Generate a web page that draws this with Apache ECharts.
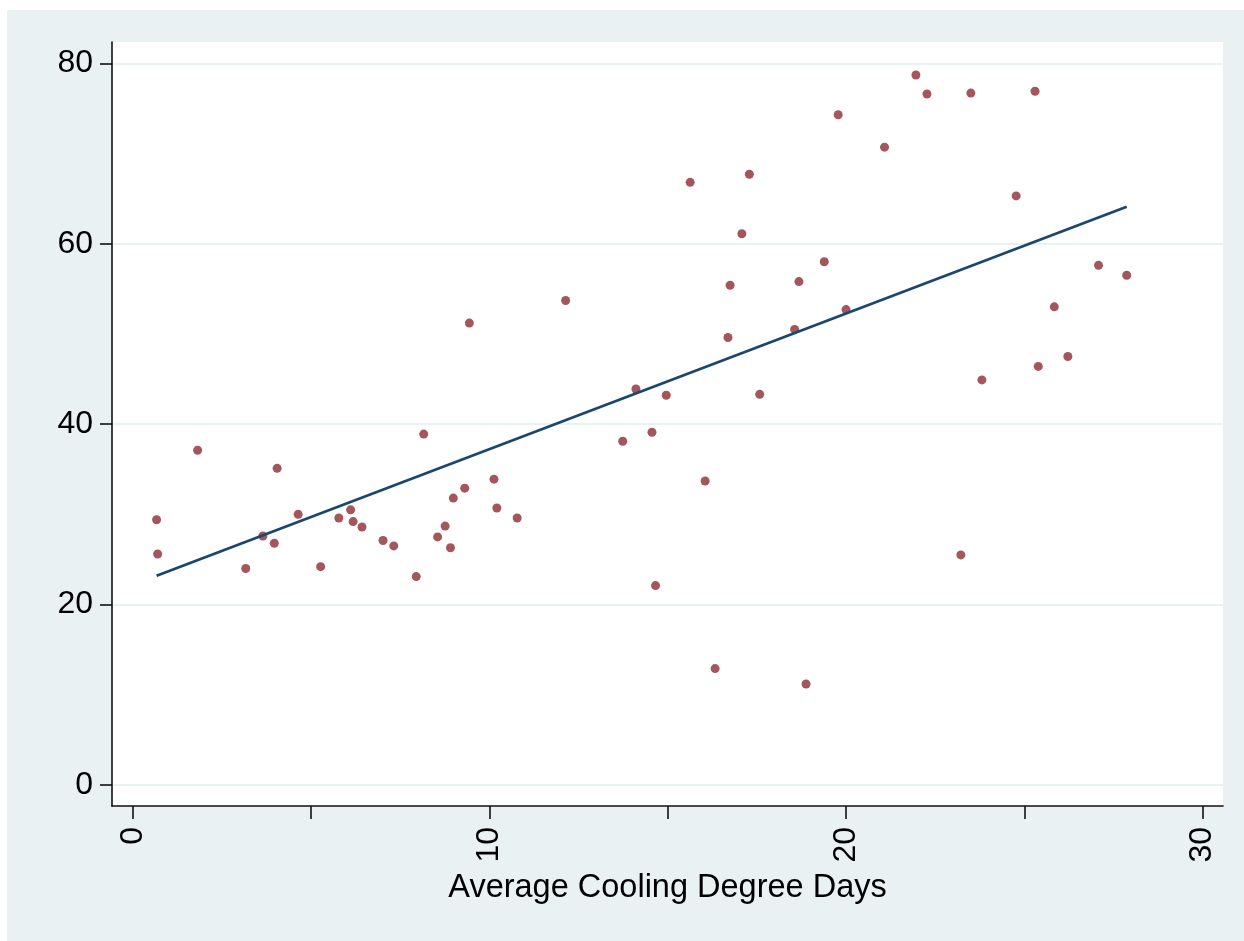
<!DOCTYPE html>
<html>
<head>
<meta charset="utf-8">
<script src="https://cdn.jsdelivr.net/npm/echarts@6/dist/echarts.min.js"></script>
<style>
  html, body { margin: 0; padding: 0; background: #ffffff; }
  #wrap { position: relative; width: 1244px; height: 941px; background: #ffffff; overflow: hidden; }
  #bg { position: absolute; left: 7px; top: 10px; width: 1237px; height: 931px; background: #EAF1F3; }
  #chart { position: absolute; left: 0; top: 0; width: 1244px; height: 941px; }
</style>
</head>
<body>
<div id="wrap"><div id="bg"></div><div id="chart"></div></div>
<script>
// ---- data ----
const coolingDegreeDays = [
  0.67, 0.70, 1.82, 3.17, 3.65, 3.97, 4.05, 4.64, 5.27, 5.78,
  6.11, 6.18, 6.43, 7.02, 7.32, 7.95, 8.16, 8.55, 8.76, 8.91,
  8.99, 9.31, 9.44, 10.13, 10.21, 10.78, 12.14, 13.74, 14.11, 14.56,
  14.66, 14.96, 15.63, 16.05, 16.33, 16.69, 16.75, 17.08, 17.29, 17.58,
  18.56, 18.68, 18.88, 19.39, 19.78, 20.00, 21.08, 21.96, 22.27, 23.22,
  23.50, 23.81, 24.77, 25.30, 25.39, 25.84, 26.22, 27.08, 27.87
];
const outcomeValues = [
  29.4, 25.6, 37.1, 24.0, 27.6, 26.8, 35.1, 30.0, 24.2, 29.6,
  30.5, 29.2, 28.6, 27.1, 26.5, 23.1, 38.9, 27.5, 28.7, 26.3,
  31.8, 32.9, 51.2, 33.9, 30.7, 29.6, 53.7, 38.1, 43.9, 39.1,
  22.1, 43.2, 66.8, 33.7, 12.9, 49.6, 55.4, 61.1, 67.7, 43.3,
  50.5, 55.8, 11.2, 58.0, 74.3, 52.7, 70.7, 78.7, 76.6, 25.5,
  76.7, 44.9, 65.3, 76.9, 46.4, 53.0, 47.5, 57.6, 56.5
];
const fitLineX = [0.67, 27.87];
const fitLineY = [23.2, 64.1];
const xTickValues = [0, 5, 10, 15, 20, 25, 30];
const xLabelValues = [0, 10, 20, 30];
const yTickValues = [0, 20, 40, 60, 80];
const xTitle = 'Average Cooling Degree Days';

const scatterData = coolingDegreeDays.map((x, i) => [x, outcomeValues[i]]);
const lineData = fitLineX.map((x, i) => [x, fitLineY[i]]);

const FONT = '"Liberation Sans", Arial, Helvetica, sans-serif';
const AXIS_COLOR = '#111111';
const GRID_COLOR = '#EAF1F3';

const chart = echarts.init(document.getElementById('chart'), null, { renderer: 'canvas' });
chart.setOption({
  animation: false,
  backgroundColor: 'transparent',
  textStyle: { fontFamily: FONT },
  grid: {
    left: 112, right: 21, top: 42, bottom: 135,
    show: true, backgroundColor: '#ffffff', borderWidth: 0,
    containLabel: false
  },
  xAxis: {
    type: 'value',
    min: -0.58, max: 30.57,
    name: xTitle,
    nameLocation: 'middle',
    nameGap: 66,
    nameTextStyle: { fontSize: 32.5, color: '#000', fontFamily: FONT },
    axisLine: { show: true, onZero: false, lineStyle: { color: AXIS_COLOR, width: 1.6 } },
    axisTick: { show: true, length: 13, inside: false, customValues: xTickValues,
                lineStyle: { color: AXIS_COLOR, width: 1.6 } },
    axisLabel: { show: true, customValues: xLabelValues, rotate: 90, margin: 21,
                 fontSize: 32, color: '#000', fontFamily: FONT },
    splitLine: { show: false }
  },
  yAxis: {
    type: 'value',
    min: -2.33, max: 82.36,
    axisLine: { show: true, onZero: false, lineStyle: { color: AXIS_COLOR, width: 1.6 } },
    axisTick: { show: true, length: 12, inside: false, customValues: yTickValues,
                lineStyle: { color: AXIS_COLOR, width: 1.6 } },
    axisLabel: { show: true, customValues: yTickValues, margin: 19,
                 fontSize: 32, color: '#000', fontFamily: FONT },
    splitLine: { show: true, lineStyle: { color: GRID_COLOR, width: 2 } }
  },
  series: [
    {
      type: 'scatter',
      data: scatterData,
      symbol: 'circle',
      symbolSize: 9,
      itemStyle: { color: '#8C2D35' },
      z: 3
    },
    {
      type: 'line',
      data: lineData,
      showSymbol: false,
      symbol: 'none',
      lineStyle: { color: '#1A476F', width: 2.8 },
      z: 4
    }
  ]
});
</script>
</body>
</html>
